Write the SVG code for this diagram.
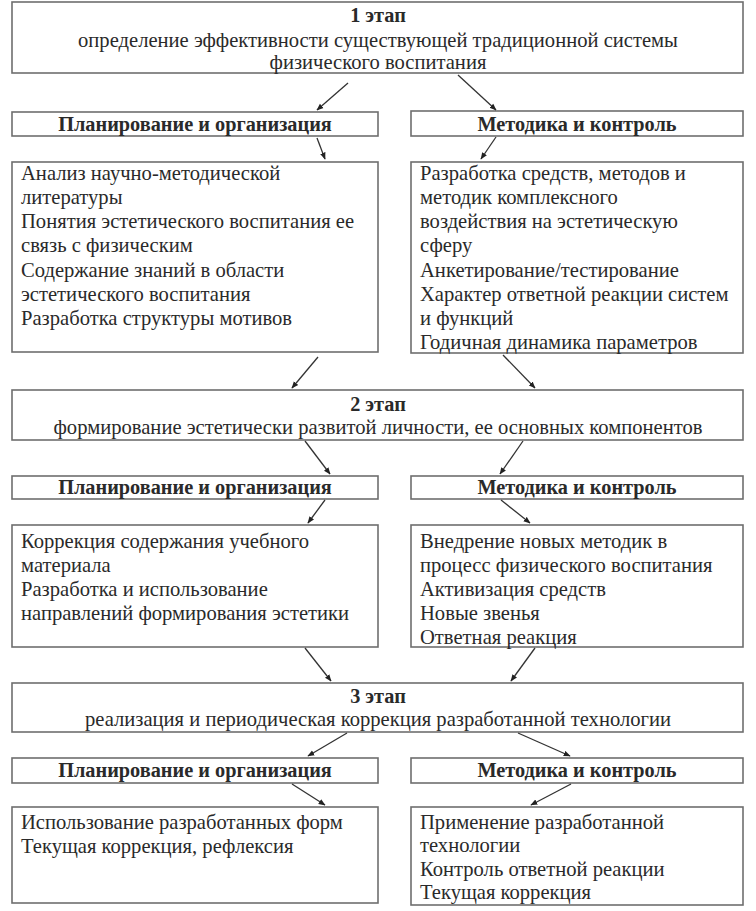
<svg xmlns="http://www.w3.org/2000/svg" width="756" height="911" viewBox="0 0 756 911">
<style>
.box{fill:#fff;stroke:#6e6e6e;stroke-width:1.6}
text{font-family:"Liberation Serif","Times New Roman",serif;font-size:20.6px;fill:#2a2a2a}
.b{font-weight:bold;font-size:20.3px}
.c{text-anchor:middle}
.con line{stroke:#333;stroke-width:1.3;marker-end:url(#ah)}
</style>
<defs>
<marker id="ah" viewBox="0 0 10 10" refX="9" refY="5" markerWidth="7" markerHeight="7" orient="auto" markerUnits="userSpaceOnUse">
<path d="M0,1 L10,5 L0,9 z" fill="#222"/>
</marker>
</defs>
<rect width="756" height="911" fill="#fff"/>

<g id="stage1">
<rect class="box" x="12" y="2" width="731" height="71"/>
<text class="b c" x="378" y="22">1 этап</text>
<text class="c" x="378" y="47">определение эффективности существующей традиционной системы</text>
<text class="c" x="378" y="69">физического воспитания</text>
</g>
<g id="plan1">
<rect class="box" x="12" y="112" width="366" height="24"/>
<text class="b c" x="195" y="131">Планирование и организация</text>
</g>
<g id="method1">
<rect class="box" x="411" y="111" width="332" height="25"/>
<text class="b c" x="577" y="131">Методика и контроль</text>
</g>
<g id="plan1content">
<rect class="box" x="12" y="162" width="366" height="190"/>
<text x="21" y="180">Анализ научно-методической</text>
<text x="21" y="204">литературы</text>
<text x="21" y="228">Понятия эстетического воспитания ее</text>
<text x="21" y="252">связь с физическим</text>
<text x="21" y="277">Содержание знаний в области</text>
<text x="21" y="301">эстетического воспитания</text>
<text x="21" y="325">Разработка структуры мотивов</text>
</g>
<g id="method1content">
<rect class="box" x="411" y="162" width="332" height="191"/>
<text x="420" y="180">Разработка средств, методов и</text>
<text x="420" y="204">методик комплексного</text>
<text x="420" y="228">воздействия на эстетическую</text>
<text x="420" y="252">сферу</text>
<text x="420" y="277">Анкетирование/тестирование</text>
<text x="420" y="301">Характер ответной реакции систем</text>
<text x="420" y="325">и функций</text>
<text x="420" y="349">Годичная динамика параметров</text>
</g>

<g id="stage2">
<rect class="box" x="12" y="390" width="731" height="50"/>
<text class="b c" x="378" y="411">2 этап</text>
<text class="c" x="378" y="434">формирование эстетически развитой личности, ее основных компонентов</text>
</g>
<g id="plan2">
<rect class="box" x="12" y="476" width="366" height="23"/>
<text class="b c" x="195" y="494">Планирование и организация</text>
</g>
<g id="method2">
<rect class="box" x="411" y="476" width="332" height="23"/>
<text class="b c" x="577" y="494">Методика и контроль</text>
</g>
<g id="plan2content">
<rect class="box" x="12" y="525" width="366" height="122"/>
<text x="21" y="548">Коррекция содержания учебного</text>
<text x="21" y="572">материала</text>
<text x="21" y="596">Разработка и использование</text>
<text x="21" y="620">направлений формирования эстетики</text>
</g>
<g id="method2content">
<rect class="box" x="411" y="525" width="332" height="122"/>
<text x="420" y="548">Внедрение новых методик в</text>
<text x="420" y="572">процесс физического воспитания</text>
<text x="420" y="596">Активизация средств</text>
<text x="420" y="620">Новые звенья</text>
<text x="420" y="644">Ответная реакция</text>
</g>

<g id="stage3">
<rect class="box" x="12" y="683" width="731" height="49"/>
<text class="b c" x="378" y="703">3 этап</text>
<text class="c" x="378" y="726">реализация и периодическая коррекция разработанной технологии</text>
</g>
<g id="plan3">
<rect class="box" x="12" y="758" width="366" height="25"/>
<text class="b c" x="195" y="777">Планирование и организация</text>
</g>
<g id="method3">
<rect class="box" x="411" y="758" width="332" height="25"/>
<text class="b c" x="577" y="777">Методика и контроль</text>
</g>
<g id="plan3content">
<rect class="box" x="12" y="807" width="366" height="96"/>
<text x="21" y="829">Использование разработанных форм</text>
<text x="21" y="853">Текущая коррекция, рефлексия</text>
</g>
<g id="method3content">
<rect class="box" x="411" y="807" width="332" height="98"/>
<text x="420" y="829">Применение разработанной</text>
<text x="420" y="852">технологии</text>
<text x="420" y="876">Контроль ответной реакции</text>
<text x="420" y="899">Текущая коррекция</text>
</g>

<g id="connectors" class="con">
<line x1="348" y1="83" x2="317" y2="110"/>
<line x1="458" y1="75" x2="496" y2="110"/>
<line x1="317" y1="138" x2="325" y2="159"/>
<line x1="496" y1="137" x2="481" y2="159"/>
<line x1="318" y1="357" x2="292" y2="388"/>
<line x1="503" y1="355" x2="535" y2="388"/>
<line x1="305" y1="441" x2="330" y2="474"/>
<line x1="523" y1="441" x2="500" y2="474"/>
<line x1="325" y1="500" x2="308" y2="523"/>
<line x1="501" y1="500" x2="530" y2="523"/>
<line x1="305" y1="648" x2="331" y2="681"/>
<line x1="535" y1="648" x2="511" y2="681"/>
<line x1="347" y1="733" x2="308" y2="756"/>
<line x1="518" y1="733" x2="570" y2="756"/>
<line x1="292" y1="784" x2="325" y2="805"/>
<line x1="571" y1="784" x2="531" y2="805"/>
</g>
</svg>
